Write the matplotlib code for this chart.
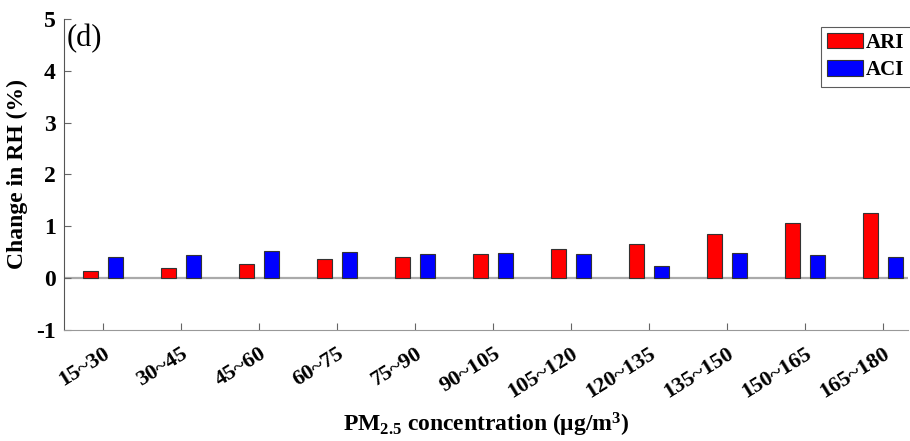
import numpy as np
import matplotlib
matplotlib.use("Agg")
import matplotlib.pyplot as plt
import matplotlib.transforms as mtransforms

# data
bins = ['15~30', '30~45', '45~60', '60~75', '75~90', '90~105',
        '105~120', '120~135', '135~150', '150~165', '165~180']
ari = [0.13, 0.19, 0.27, 0.37, 0.41, 0.47, 0.57, 0.65, 0.86, 1.07, 1.25]
aci = [0.41, 0.44, 0.53, 0.50, 0.46, 0.48, 0.47, 0.24, 0.49, 0.45, 0.40]

plt.rcParams['font.family'] = ['Liberation Serif', 'DejaVu Serif']
plt.rcParams['axes.unicode_minus'] = False
plt.rcParams['mathtext.fontset'] = 'custom'
plt.rcParams['mathtext.rm'] = 'Liberation Serif:bold'
plt.rcParams['mathtext.it'] = 'Liberation Serif:bold'
plt.rcParams['mathtext.bf'] = 'Liberation Serif:bold'

fig = plt.figure(figsize=(9.1, 4.41), dpi=100)
ax = fig.add_axes([0.0703, 0.2517, 0.9277, 0.7053])

x = np.arange(1, len(bins) + 1)
off = 0.16
w = 0.19
ax.bar(x - off, ari, width=w, color='#ff0000', edgecolor='#333333', linewidth=0.8, label='ARI')
ax.bar(x + off, aci, width=w, color='#0000ff', edgecolor='#333333', linewidth=0.8, label='ACI')
ax.axhline(0, color='#aaaaaa', linewidth=1.6, zorder=0)

ax.set_xlim(0.5, 11.32)
ax.set_ylim(-1, 5)
ax.set_yticks(range(-1, 6))
ax.set_xticks(x)
ax.set_xticklabels(bins, rotation=32, ha='right', rotation_mode='anchor',
                   fontsize=16, fontweight='bold')
# nudge the rotated labels a little to the right, like the original
shift = mtransforms.ScaledTranslation(7 / 100, 0, fig.dpi_scale_trans)
for lab in ax.get_xticklabels():
    lab.set_transform(lab.get_transform() + shift)
for lab in ax.get_yticklabels():
    lab.set_fontsize(17)
    lab.set_fontweight('bold')

ax.tick_params(direction='in', length=5, color='#666666', pad=6)
ax.tick_params(axis='x', pad=10)
for s in ['top', 'right']:
    ax.spines[s].set_visible(False)
ax.spines['left'].set_color('#555555')
ax.spines['bottom'].set_color('#999999')

ax.set_ylabel('Change in RH (%)', fontsize=17, fontweight='bold', labelpad=6)
ax.set_xlabel(r'PM$_{2.5}$ concentration ($\mathrm{\mu}$g/m$^{3}$)',
              fontsize=17, fontweight='bold', labelpad=6)

ax.text(0.003, 0.985, '(d)', transform=ax.transAxes, fontsize=22,
        va='top', ha='left')

leg = ax.legend(loc='upper right', bbox_to_anchor=(1.003, 0.975),
                prop={'weight': 'bold', 'size': 15}, frameon=True, fancybox=False,
                edgecolor='#333333', handlelength=1.7, handleheight=0.75,
                handletextpad=0.15, borderpad=0.3, labelspacing=0.35, borderaxespad=0.0)
leg.get_frame().set_linewidth(0.8)

fig.savefig('out.png', dpi=100)
